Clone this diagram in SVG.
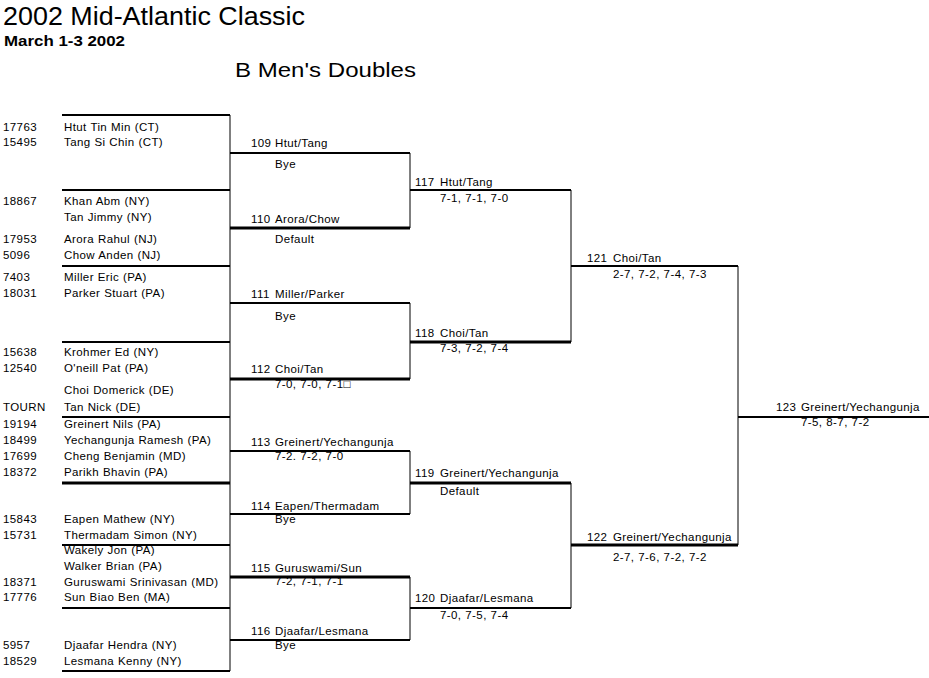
<svg xmlns="http://www.w3.org/2000/svg" width="929" height="678" viewBox="0 0 929 678">
<style>
text{font-family:"Liberation Sans",Arial,sans-serif;fill:#000}
.t{font-size:11.5px;letter-spacing:0.4px;word-spacing:0.3px}
.h{stroke:#000;stroke-width:2;fill:none}
.k{stroke:#000;stroke-width:3;fill:none}
.v{stroke:#000;stroke-width:1;fill:none}
</style>
<defs>
<clipPath id="c1"><rect x="0" y="452" width="229" height="20"/></clipPath>
<clipPath id="c2"><rect x="0" y="546" width="229" height="20"/></clipPath>
</defs>
<rect width="929" height="678" fill="#fff"/>
<g id="header">
<text x="3" y="25" font-size="25" textLength="302" lengthAdjust="spacingAndGlyphs">2002 Mid-Atlantic Classic</text>
<text x="4" y="46" font-size="14" font-weight="bold" textLength="121" lengthAdjust="spacingAndGlyphs">March 1-3 2002</text>
<text x="235" y="77" font-size="21" textLength="181" lengthAdjust="spacingAndGlyphs">B Men's Doubles</text>
</g>
<g id="connectors">
<path class="h" d="M62 115H230M62 190H230M62 266H230M62 342H230M62 417H230M62 545H230M62 608H230M62 671H230"/>
<path class="k" d="M62 483H230"/>
<path class="v" d="M230 115V671"/>
<path class="h" d="M230 153H410M230 303H410M230 451H410M230 514H410M230 640H410"/>
<path class="k" d="M230 228H410M230 379H410M230 577H410"/>
<path class="v" d="M410 153V228M410 303V379M410 451V514M410 577V640"/>
<path class="h" d="M410 190H571"/>
<path class="k" d="M410 342H571M410 483H571" stroke-width="2.6"/>
<path class="h" d="M410 608H571" stroke-width="2.4"/>
<path class="v" d="M571 190V342M571 483V608"/>
<path class="h" d="M571 266H738"/>
<path class="k" d="M571 545H738" stroke-width="2.6"/>
<path class="v" d="M738 266V545"/>
<path class="h" d="M738 417H929"/>
</g>
<g id="players" class="t">
<g id="p1"><text x="3" y="131">17763</text><text x="64" y="131">Htut Tin Min (CT)</text></g>
<g id="p2"><text x="3" y="146">15495</text><text x="64" y="146">Tang Si Chin (CT)</text></g>
<g id="p3"><text x="3" y="205">18867</text><text x="64" y="205">Khan Abm (NY)</text></g>
<g id="p4"><text x="64" y="221">Tan Jimmy (NY)</text></g>
<g id="p5"><text x="3" y="243">17953</text><text x="64" y="243">Arora Rahul (NJ)</text></g>
<g id="p6"><text x="3" y="259">5096</text><text x="64" y="259">Chow Anden (NJ)</text></g>
<g id="p7"><text x="3" y="281">7403</text><text x="64" y="281">Miller Eric (PA)</text></g>
<g id="p8"><text x="3" y="297">18031</text><text x="64" y="297">Parker Stuart (PA)</text></g>
<g id="p9"><text x="3" y="356">15638</text><text x="64" y="356">Krohmer Ed (NY)</text></g>
<g id="p10"><text x="3" y="372">12540</text><text x="64" y="372">O'neill Pat (PA)</text></g>
<g id="p11"><text x="64" y="394">Choi Domerick (DE)</text></g>
<g id="p12"><text x="3" y="411">TOURN</text><text x="64" y="411">Tan Nick (DE)</text></g>
<g id="p13"><text x="3" y="428">19194</text><text x="64" y="428">Greinert Nils (PA)</text></g>
<g id="p14"><text x="3" y="444">18499</text><text x="64" y="444">Yechangunja Ramesh (PA)</text></g>
<g id="p15" clip-path="url(#c1)"><text x="3" y="460">17699</text><text x="64" y="460">Cheng Benjamin (MD)</text></g>
<g id="p16"><text x="3" y="476">18372</text><text x="64" y="476">Parikh Bhavin (PA)</text></g>
<g id="p17"><text x="3" y="523">15843</text><text x="64" y="523">Eapen Mathew (NY)</text></g>
<g id="p18"><text x="3" y="539">15731</text><text x="64" y="539">Thermadam Simon (NY)</text></g>
<g id="p19" clip-path="url(#c2)"><text x="64" y="554">Wakely Jon (PA)</text></g>
<g id="p20"><text x="64" y="570">Walker Brian (PA)</text></g>
<g id="p21"><text x="3" y="586">18371</text><text x="64" y="586">Guruswami Srinivasan (MD)</text></g>
<g id="p22"><text x="3" y="601">17776</text><text x="64" y="601">Sun Biao Ben (MA)</text></g>
<g id="p23"><text x="3" y="649">5957</text><text x="64" y="649">Djaafar Hendra (NY)</text></g>
<g id="p24"><text x="3" y="665">18529</text><text x="64" y="665">Lesmana Kenny (NY)</text></g>
</g>
<g id="round2" class="t">
<g id="m109"><text x="251" y="147">109</text><text x="275" y="147">Htut/Tang</text><text x="275" y="168">Bye</text></g>
<g id="m110"><text x="251" y="223">110</text><text x="275" y="223">Arora/Chow</text><text x="275" y="243">Default</text></g>
<g id="m111"><text x="251" y="298">111</text><text x="275" y="298">Miller/Parker</text><text x="275" y="320">Bye</text></g>
<g id="m112"><text x="251" y="373">112</text><text x="275" y="373">Choi/Tan</text><text x="275" y="388">7-0, 7-0, 7-1□</text></g>
<g id="m113"><text x="251" y="446">113</text><text x="275" y="446">Greinert/Yechangunja</text><text x="275" y="460">7-2. 7-2, 7-0</text></g>
<g id="m114"><text x="251" y="510">114</text><text x="275" y="510">Eapen/Thermadam</text><text x="275" y="523">Bye</text></g>
<g id="m115"><text x="251" y="572">115</text><text x="275" y="572">Guruswami/Sun</text><text x="275" y="585">7-2, 7-1, 7-1</text></g>
<g id="m116"><text x="251" y="635">116</text><text x="275" y="635">Djaafar/Lesmana</text><text x="275" y="649">Bye</text></g>
</g>
<g id="round3" class="t">
<g id="m117"><text x="415" y="186">117</text><text x="440" y="186">Htut/Tang</text><text x="440" y="202">7-1, 7-1, 7-0</text></g>
<g id="m118"><text x="415" y="337">118</text><text x="440" y="337">Choi/Tan</text><text x="440" y="352">7-3, 7-2, 7-4</text></g>
<g id="m119"><text x="415" y="477">119</text><text x="440" y="477">Greinert/Yechangunja</text><text x="440" y="495">Default</text></g>
<g id="m120"><text x="415" y="602">120</text><text x="440" y="602">Djaafar/Lesmana</text><text x="440" y="619">7-0, 7-5, 7-4</text></g>
</g>
<g id="round4" class="t">
<g id="m121"><text x="587" y="262">121</text><text x="613" y="262">Choi/Tan</text><text x="613" y="278">2-7, 7-2, 7-4, 7-3</text></g>
<g id="m122"><text x="587" y="541">122</text><text x="613" y="541">Greinert/Yechangunja</text><text x="613" y="561">2-7, 7-6, 7-2, 7-2</text></g>
</g>
<g id="final" class="t">
<g id="m123"><text x="776" y="411">123</text><text x="801" y="411">Greinert/Yechangunja</text><text x="801" y="426">7-5, 8-7, 7-2</text></g>
</g>
</svg>
